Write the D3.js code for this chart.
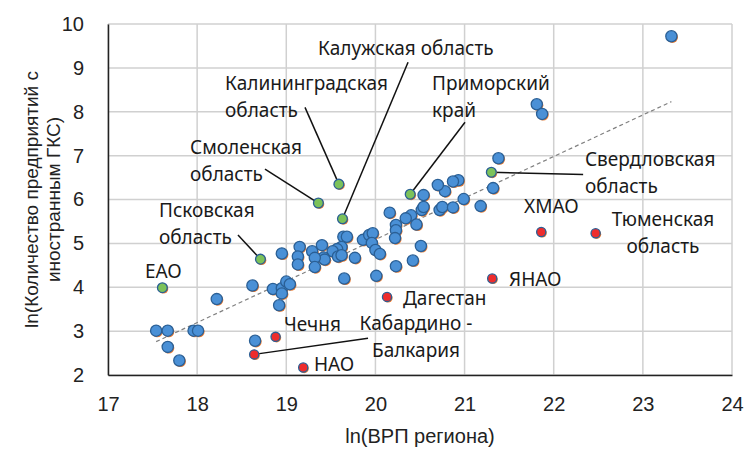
<!DOCTYPE html>
<html>
<head>
<meta charset="utf-8">
<script src="https://cdn.jsdelivr.net/npm/d3@7"></script>
<style>
  body { margin: 0; background: #fff; }
  svg { display: block; }
</style>
</head>
<body>
<svg id="chart" width="745" height="449"></svg>
<script>
// regions without annotation (ln GRP, ln number of firms)
var blueX = [23.32, 21.81, 21.87, 21.38, 21.32, 21.18, 20.99, 20.93, 20.87, 20.78, 20.70, 20.54,
    20.52, 20.54, 20.72, 20.75, 20.87, 20.16, 20.40, 20.34, 20.46, 20.23, 20.23, 20.22, 20.51,
    20.42, 20.23, 20.01, 19.65, 19.86, 19.93, 19.97, 19.96, 20.00, 20.05, 19.64, 19.68, 19.62,
    19.77, 19.57, 19.52, 19.58, 19.62, 19.40, 19.42, 19.43, 19.29, 19.32, 19.32, 19.15, 19.13,
    19.13, 18.95, 18.62, 18.85, 18.95, 19.00, 19.04, 18.95, 18.92, 18.22, 17.54, 17.67, 17.96,
    18.01, 17.67, 17.80, 18.65];
var blueY = [9.72, 8.17, 7.95, 6.94, 6.26, 5.85, 6.01, 6.44, 6.41, 6.19, 6.33, 6.10,
    5.76, 5.83, 5.76, 5.83, 5.82, 5.70, 5.64, 5.57, 5.43, 5.42, 5.30, 5.12, 4.94,
    4.61, 4.48, 4.26, 4.20, 5.08, 5.19, 5.23, 5.01, 4.85, 4.76, 5.15, 5.15, 4.92,
    4.67, 4.87, 4.82, 4.70, 4.73, 4.96, 4.68, 4.63, 4.82, 4.67, 4.46, 4.92, 4.70,
    4.52, 4.77, 4.04, 3.96, 3.98, 4.13, 4.07, 3.86, 3.59, 3.73, 3.01, 3.01, 3.01,
    3.01, 2.64, 2.33, 2.78];

// regions above the trend (green)
var greenNames = ["Свердловская область", "Приморский край", "Калужская область",
    "Калининградская область", "Смоленская область", "Псковская область", "ЕАО"];
var greenX = [21.30, 20.39, 19.63, 19.59, 19.36, 18.71, 17.61];
var greenY = [6.62, 6.12, 5.56, 6.35, 5.92, 4.64, 3.99];

// regions below the trend (red)
var redNames = ["ХМАО", "Тюменская область", "ЯНАО", "Дагестан", "Чечня",
    "Кабардино - Балкария", "НАО"];
var redX = [21.86, 22.47, 21.31, 20.13, 18.88, 18.64, 19.19];
var redY = [5.26, 5.23, 4.20, 3.78, 2.87, 2.47, 2.17];

// linear trend end points
var trendX = [17.54, 23.32];
var trendY = [2.76, 8.23];

var xTicks = [17, 18, 19, 20, 21, 22, 23, 24];
var yTicks = [2, 3, 4, 5, 6, 7, 8, 9, 10];

var svg = d3.select("#chart"),
    plotL = 108, plotT = 24, plotR = 732, plotB = 375;

var x = d3.scaleLinear().domain([17, 24]).range([plotL, plotR]);
var y = d3.scaleLinear().domain([2, 10]).range([plotB, plotT]);

// grid
svg.append("g").selectAll("line")
    .data(xTicks).enter().append("line")
    .attr("x1", function (d) { return x(d); })
    .attr("x2", function (d) { return x(d); })
    .attr("y1", plotT).attr("y2", plotB)
    .attr("stroke", "#d0d0d0").attr("stroke-width", 1.5);
svg.append("g").selectAll("line")
    .data(yTicks).enter().append("line")
    .attr("y1", function (d) { return y(d); })
    .attr("y2", function (d) { return y(d); })
    .attr("x1", plotL).attr("x2", plotR)
    .attr("stroke", "#d0d0d0").attr("stroke-width", 1.5);

// axes
svg.append("g")
    .attr("transform", "translate(0," + plotB + ")")
    .call(d3.axisBottom(x).tickValues(xTicks).tickSize(0).tickPadding(22).tickFormat(d3.format("d")));
svg.append("g")
    .attr("transform", "translate(" + plotL + ",0)")
    .call(d3.axisLeft(y).tickValues(yTicks).tickSize(0).tickPadding(24).tickFormat(d3.format("d")));
svg.selectAll(".domain").attr("stroke", "#222").attr("stroke-width", 1.5);
svg.selectAll(".tick text")
    .attr("font-family", "Liberation Sans, Arial, sans-serif")
    .attr("font-size", 20).attr("fill", "#222");

svg.append("text")
    .attr("x", x(20.5)).attr("y", 443)
    .attr("text-anchor", "middle")
    .attr("font-family", "Liberation Sans, Arial, sans-serif")
    .attr("font-size", 20).attr("fill", "#222")
    .text("ln(ВРП региона)");

var yTitle = svg.append("text")
    .attr("transform", "translate(0," + ((plotT + plotB) / 2) + ") rotate(-90)")
    .attr("text-anchor", "middle")
    .attr("font-family", "Liberation Sans, Arial, sans-serif")
    .attr("font-size", 19).attr("fill", "#222");
yTitle.append("tspan").attr("x", 0).attr("y", 38).text("ln(Количество предприятий с");
yTitle.append("tspan").attr("x", 0).attr("y", 60).text("иностранным ГКС)");

// trend line
svg.append("line")
    .attr("x1", x(trendX[0])).attr("y1", y(trendY[0]))
    .attr("x2", x(trendX[1])).attr("y2", y(trendY[1]))
    .attr("stroke", "#808080").attr("stroke-width", 1.2)
    .attr("stroke-dasharray", "4,3");

// annotation layout (in chart units): text position and leader line start
var labelFont = "Noto Sans, Open Sans, sans-serif";
var notes = [
    { lines: ["Свердловская", "область"], tx: 22.35, ty: 6.76, anchor: "start", lx: 22.33, ly: 6.57, px: 21.30, py: 6.62 },
    { lines: ["Приморский", "край"], tx: 20.635, ty: 8.49, anchor: "start", lx: 21.005, ly: 7.76, px: 20.39, py: 6.12 },
    { lines: ["Калужская область"], tx: 19.356, ty: 9.29, anchor: "start", lx: 20.366, ly: 9.13, px: 19.63, py: 5.56 },
    { lines: ["Калининградская", "область"], tx: 18.313, ty: 8.49, anchor: "start", lx: 19.21, ly: 8.10, px: 19.59, py: 6.35 },
    { lines: ["Смоленская", "область"], tx: 17.92, ty: 7.03, anchor: "start", lx: 18.761, ly: 6.69, px: 19.36, py: 5.92 },
    { lines: ["Псковская", "область"], tx: 17.572, ty: 5.60, anchor: "start", lx: 18.458, ly: 5.19, px: 18.71, py: 4.64 },
    { lines: ["ЕАО"], tx: 17.415, ty: 4.21, anchor: "start" },
    { lines: ["ХМАО"], tx: 21.667, ty: 5.69, anchor: "start" },
    { lines: ["Тюменская", "область"], tx: 23.226, ty: 5.39, anchor: "middle" },
    { lines: ["ЯНАО"], tx: 21.499, ty: 4.03, anchor: "start" },
    { lines: ["Дагестан"], tx: 20.309, ty: 3.59, anchor: "start" },
    { lines: ["Чечня"], tx: 18.974, ty: 3.00, anchor: "start" },
    { lines: ["Кабардино -", "Балкария"], tx: 20.455, ty: 3.02, anchor: "middle", lx: 19.917, ly: 2.84, px: 18.64, py: 2.47 },
    { lines: ["НАО"], tx: 19.311, ty: 2.09, anchor: "start" }
];

svg.append("g").selectAll("line")
    .data(notes.filter(function (d) { return d.lx !== undefined; }))
    .enter().append("line")
    .attr("x1", function (d) { return x(d.lx); })
    .attr("y1", function (d) { return y(d.ly); })
    .attr("x2", function (d) { return x(d.px); })
    .attr("y2", function (d) { return y(d.py); })
    .attr("stroke", "#111").attr("stroke-width", 1.5);

// points
function drawDots(xs, ys, r, fill, stroke) {
    var g = svg.append("g");
    var pts = xs.map(function (v, i) { return [v, ys[i]]; });
    g.selectAll(".shadow").data(pts).enter().append("circle")
        .attr("class", "shadow")
        .attr("cx", function (d) { return x(d[0]) + 1; })
        .attr("cy", function (d) { return y(d[1]) + 1; })
        .attr("r", r).attr("fill", "#ed7d31");
    g.selectAll(".dot").data(pts).enter().append("circle")
        .attr("class", "dot")
        .attr("cx", function (d) { return x(d[0]); })
        .attr("cy", function (d) { return y(d[1]); })
        .attr("r", r).attr("fill", fill)
        .attr("stroke", stroke).attr("stroke-width", 1.3);
}
drawDots(blueX, blueY, 5.6, "#4a90d6", "#2a5f95");
drawDots(greenX, greenY, 4.9, "#7cc25a", "#2a5f95");
drawDots(redX, redY, 4.6, "#ee2c2c", "#2a5f95");

// labels
notes.forEach(function (n) {
    var t = svg.append("text")
        .attr("font-family", labelFont)
        .attr("font-size", 19).attr("fill", "#1a1a1a")
        .attr("text-anchor", n.anchor);
    n.lines.forEach(function (s, i) {
        t.append("tspan")
            .attr("x", x(n.tx))
            .attr("y", y(n.ty) + i * 27)
            .text(s);
    });
});
</script>
</body>
</html>
